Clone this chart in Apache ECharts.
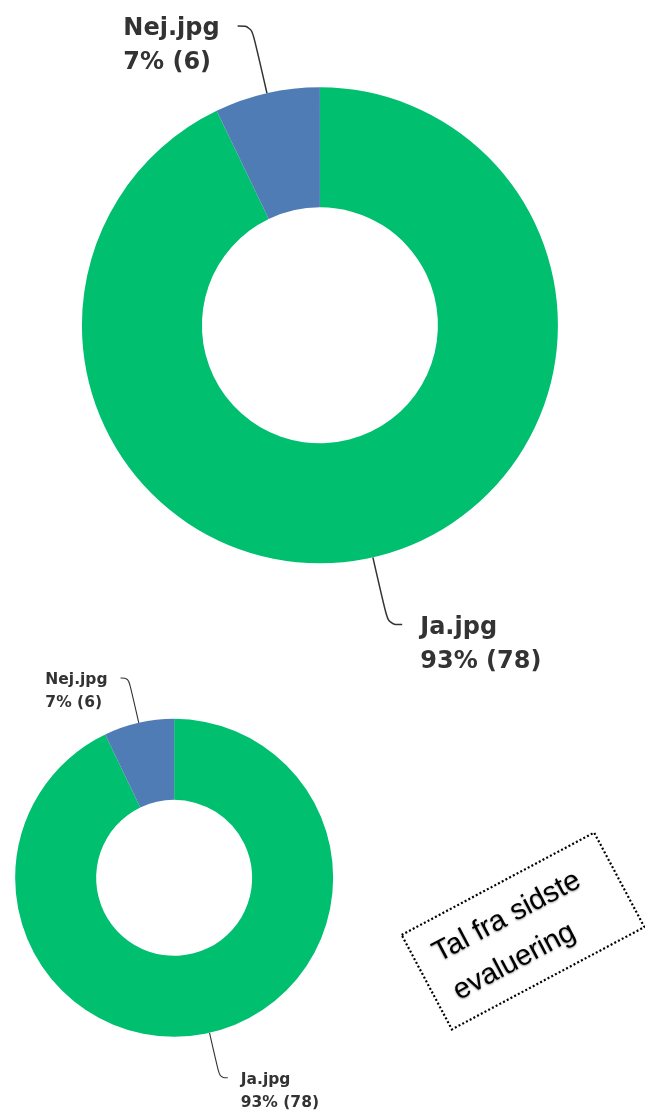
<!DOCTYPE html>
<html>
<head>
<meta charset="utf-8">
<style>
  html, body { margin: 0; padding: 0; background: #fff; }
  #chart { width: 645px; height: 1114px; }
</style>
<script src="https://cdn.jsdelivr.net/npm/echarts@6/dist/echarts.min.js"></script>
</head>
<body>
<div id="chart"></div>
<script>
// Survey answers: current round (large donut) and previous evaluation (small donut)
const categories = ['Ja.jpg', 'Nej.jpg'];
const currentCounts = [78, 6];
const previousCounts = [78, 6];
const sliceColors = ['#00BF6F', '#507CB5'];
const noteLines = ['Tal fra sidste', 'evaluering'];

const toData = counts => categories.map((name, i) => ({
  name: name,
  value: counts[i],
  itemStyle: { color: sliceColors[i] }
}));

function donut(center, radius, fontSize, lineHeight, shift, len, len2, dist, lineWidth, counts) {
  const txt = {
    fontFamily: 'DejaVu Sans',
    fontWeight: 'bold',
    fontSize: fontSize,
    lineHeight: lineHeight,
    color: '#333333',
    align: 'left'
  };
  return {
    type: 'pie',
    center: center,
    radius: radius,
    startAngle: 90,
    clockwise: true,
    percentPrecision: 0,
    avoidLabelOverlap: false,
    silent: true,
    animation: false,
    data: toData(counts),
    label: {
      show: true,
      position: 'outside',
      distanceToLabelLine: dist,
      // top padding keeps the leader line level with the first text line
      padding: [lineHeight + shift, 0, 0, 0],
      formatter: '{n|{b}}\n{v|{d}% ({c})}',
      rich: { n: txt, v: txt }
    },
    labelLine: {
      show: true,
      length: len,
      length2: len2,
      smooth: 0.4,
      lineStyle: { color: '#333333', width: lineWidth }
    }
  };
}

const chart = echarts.init(document.getElementById('chart'), null, { renderer: 'canvas' });

const tilt = 28 * Math.PI / 180;
const noteFont = '29px "Liberation Sans", Arial, sans-serif';
const noteText = (text, y) => ({
  type: 'text',
  x: -89, y: y,
  style: {
    text: text, font: noteFont, fill: '#000',
    align: 'left', verticalAlign: 'middle',
    textShadowColor: 'rgba(0,0,0,0.4)', textShadowBlur: 2, textShadowOffsetY: 1
  }
});

chart.setOption({
  backgroundColor: '#ffffff',
  animation: false,
  series: [
    donut(['49.6%', '29.2%'], [118, 238], 24, 34, 6, 69, 14, 18, 1.5, currentCounts),
    donut(['27%', '78.8%'], [78, 159], 15.5, 23, 4, 46, 8, 13, 1.1, previousCounts)
  ],
  graphic: [{
    type: 'group',
    x: 523,
    y: 931,
    rotation: tilt,
    children: [
      {
        type: 'rect',
        shape: { x: -109, y: -53.5, width: 218, height: 107 },
        style: { fill: 'none', stroke: '#000', lineWidth: 2.2, lineDash: [2, 2.2] }
      },
      noteText(noteLines[0], -20),
      noteText(noteLines[1], 23)
    ]
  }]
});
</script>
</body>
</html>
